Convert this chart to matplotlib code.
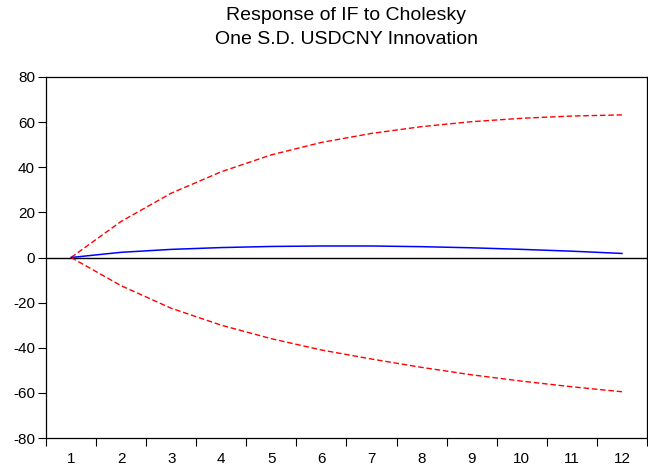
import numpy as np
import matplotlib.pyplot as plt

plt.rcParams['font.family'] = ['Liberation Sans', 'DejaVu Sans']
plt.rcParams['axes.unicode_minus'] = False

periods = list(range(1, 13))
response = [0.0, 2.3, 3.6, 4.4, 4.9, 5.1, 5.1, 4.8, 4.3, 3.6, 2.8, 1.8]
upper = [0.0, 16.0, 28.5, 38.0, 45.5, 51.0, 55.0, 58.0, 60.2, 61.7, 62.7, 63.2]
lower = [0.0, -12.5, -22.5, -30.0, -36.0, -41.0, -45.0, -48.7, -52.0, -54.8, -57.3, -59.5]

fig = plt.figure(figsize=(6.48, 4.68), dpi=100)
ax = fig.add_axes([46 / 648, 30 / 468, 601 / 648, 361 / 468])

ax.axhline(0, color='black', lw=1.0)
ax.plot(periods, upper, color='red', lw=1.0, ls=(0, (4, 2)))
ax.plot(periods, lower, color='red', lw=1.0, ls=(0, (4, 2)))
ax.plot(periods, response, color='blue', lw=1.1)

ax.set_xlim(0.5, 12.5)
ax.set_ylim(-80, 80)
ax.set_yticks(np.arange(-80, 81, 20))
ax.set_xticks(periods)
ax.set_xticklabels([str(p) for p in periods])
ax.tick_params(axis='x', which='major', length=0, pad=10, labelsize=11)
ax.set_xticks(np.arange(0.5, 12.6, 1), minor=True)
ax.tick_params(axis='x', which='minor', length=6, width=0.8, direction='out')
ax.tick_params(axis='y', length=6, width=0.8, direction='out', labelsize=11, pad=2)

for s in ax.spines.values():
    s.set_linewidth(0.9)

# title sits over the plot area, not the whole figure
ax.text(0.5, 1 - 16 / 468, 'Response of IF to Cholesky', transform=fig.transFigure,
        ha='center', va='center', fontsize=14)
ax.text(0.5, 1 - 39 / 468, 'One S.D. USDCNY Innovation', transform=fig.transFigure,
        ha='center', va='center', fontsize=14)
for t in ax.texts:
    t.set_x(346.5 / 648)

fig.savefig('out.png', dpi=100)
